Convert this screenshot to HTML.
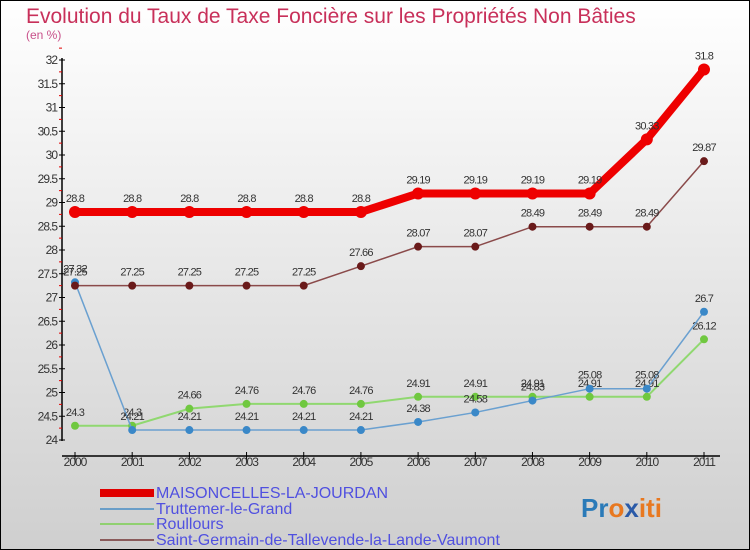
<!DOCTYPE html>
<html><head><meta charset="utf-8"><style>
body{margin:0}
#c{width:750px;height:550px;position:relative;overflow:hidden;font-family:"Liberation Sans",sans-serif}
</style></head><body>
<div id="c">
<svg id="s" width="750" height="550" xmlns="http://www.w3.org/2000/svg">
<defs><linearGradient id="bg" x1="0" y1="0" x2="0" y2="1"><stop offset="0" stop-color="#ffffff"/><stop offset="1" stop-color="#cfcfcf"/></linearGradient></defs>
<rect x="0.5" y="0.5" width="749" height="549" fill="url(#bg)" stroke="#000"/>
<text x="26" y="23" font-size="21" fill="#c8305a">Evolution du Taux de Taxe Foncière sur les Propriétés Non Bâties</text>
<text x="26" y="39" font-size="12" fill="#c8508a">(en %)</text>
<g id="axes"></g><g id="series"></g>
<g font-size="16" fill="#5050e0">
<rect x="100" y="489" width="54" height="8" fill="#e00000"/>
<text x="156" y="498" fill="#5050e0">MAISONCELLES-LA-JOURDAN</text>
<rect x="100" y="508" width="54" height="2" fill="#6a9ec8"/>
<text x="156" y="514" fill="#5050e0">Truttemer-le-Grand</text>
<rect x="100" y="523" width="54" height="2" fill="#90d070"/>
<text x="156" y="529" fill="#5050e0">Roullours</text>
<rect x="100" y="539" width="54" height="2" fill="#8a5a5a"/>
<text x="156" y="545" fill="#5050e0">Saint-Germain-de-Tallevende-la-Lande-Vaumont</text>
</g>
<text x="581" y="517" font-size="26" font-weight="bold"><tspan fill="#2a7ab8">Pr</tspan><tspan fill="#e87820">o</tspan><tspan fill="#2a5aa8">x</tspan><tspan fill="#e87820">iti</tspan></text>
</svg>
</div>
<script>
const years=[2000,2001,2002,2003,2004,2005,2006,2007,2008,2009,2010,2011];
const maisoncelles=[28.8,28.8,28.8,28.8,28.8,28.8,29.19,29.19,29.19,29.19,30.33,31.8];
const truttemer=[27.32,24.21,24.21,24.21,24.21,24.21,24.38,24.58,24.83,25.08,25.08,26.7];
const roullours=[24.3,24.3,24.66,24.76,24.76,24.76,24.91,24.91,24.91,24.91,24.91,26.12];
const saintGermain=[27.25,27.25,27.25,27.25,27.25,27.66,28.07,28.07,28.49,28.49,28.49,29.87];
const yTicks=[24,24.5,25,25.5,26,26.5,27,27.5,28,28.5,29,29.5,30,30.5,31,31.5,32];
const NS="http://www.w3.org/2000/svg";
const x=i=>75+i*(704-75)/11;
const y=v=>440-(v-24)*47.5;
function mk(t,a,p){const e=document.createElementNS(NS,t);for(const k in a)e.setAttribute(k,a[k]);p.appendChild(e);return e;}
const ax=document.getElementById('axes');
const yl=mk('line',{x1:62,y1:58,x2:62,y2:441,stroke:'#000','stroke-width':1.5},ax);


const xl=mk('line',{x1:62,y1:456,x2:720,y2:456,stroke:'#000','stroke-width':1.5},ax);


yTicks.forEach(v=>{
  mk('line',{x1:59,x2:65,y1:y(v),y2:y(v),stroke:'#000'},ax);
  mk('line',{x1:59,x2:62,y1:y(v+0.25),y2:y(v+0.25),stroke:'#e00000'},ax);
  const t=mk('text',{x:57,y:y(v)+4,'font-size':12,'text-anchor':'end',fill:'#333','letter-spacing':'-1'},ax);
  t.textContent=v;
  
  
});
years.forEach((yr,i)=>{
  mk('line',{x1:x(i),x2:x(i),y1:452,y2:460,stroke:'#000'},ax);
  const t=mk('text',{x:x(i),y:466,'font-size':12,'text-anchor':'middle',fill:'#333','letter-spacing':'-1'},ax);
  t.textContent=yr;
  
  
});
const sg=document.getElementById('series');
function draw(vals,name,col,dot,w,r){
  const g=mk('g',{},sg);
  
  
  const l=mk('polyline',{points:vals.map((v,i)=>x(i)+','+y(v)).join(' '),fill:'none',stroke:col,'stroke-width':w},g);
  
  
  vals.forEach((v,i)=>{
    const c=mk('circle',{cx:x(i),cy:y(v),r:r,fill:dot},g);
    
    
    const t=mk('text',{x:x(i),y:y(v)-10,'font-size':11,'text-anchor':'middle',fill:'#333','letter-spacing':'-0.8'},g);
    t.textContent=v;
    
    
  });
}
draw(roullours,'roullours','#90d870','#70c840',2,4);
draw(truttemer,'truttemer','#6aa0d0','#3a88c8',1.5,4);
draw(saintGermain,'saint-germain','#8a4a4a','#6a1a1a',1.5,4);
draw(maisoncelles,'maisoncelles','#ee0000','#ee0000',8,6);
</script>
</body></html>
